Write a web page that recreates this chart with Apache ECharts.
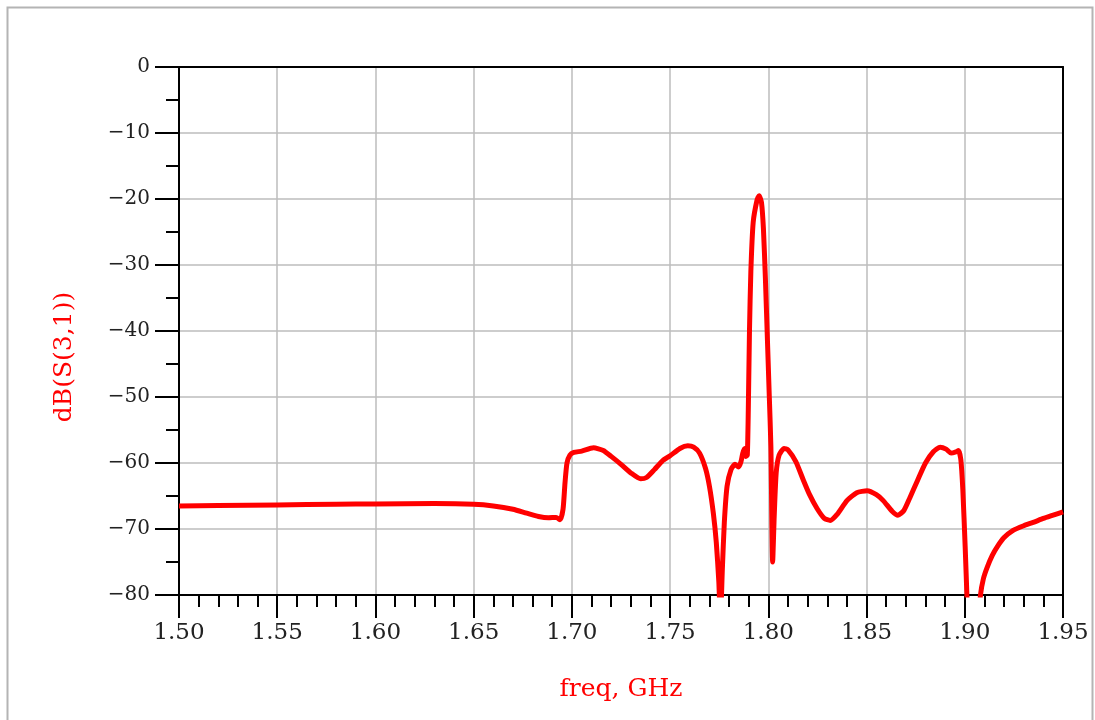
<!DOCTYPE html>
<html><head><meta charset="utf-8">
<script src="https://cdn.jsdelivr.net/npm/echarts@6/dist/echarts.min.js"></script>
<style>html,body{margin:0;padding:0;background:#fff}#c{width:1095px;height:720px}</style>
</head><body><div id="c"></div>
<script>
// Frequency (GHz)
const freqGHz = [1.500,1.520,1.550,1.580,1.600,1.630,1.650,1.660,1.670,1.677,1.683,1.688,1.692,1.694,1.6955,1.6965,1.6975,1.699,1.701,1.705,1.711,1.716,1.720,1.725,1.730,1.735,1.738,1.742,1.746,1.750,1.755,1.759,1.762,1.765,1.768,1.770,1.772,1.7735,1.7748,1.7756,1.7766,1.7776,1.779,1.781,1.783,1.7848,1.786,1.787,1.788,1.7886,1.7893,1.7898,1.7904,1.7911,1.7923,1.7943,1.7953,1.7965,1.7975,1.7985,1.7995,1.8005,1.8013,1.8022,1.8030,1.8040,1.8055,1.8080,1.8100,1.8140,1.8177,1.8210,1.8248,1.8285,1.8315,1.8350,1.8400,1.8450,1.8503,1.8550,1.8585,1.8630,1.8660,1.8690,1.8720,1.8760,1.8800,1.8840,1.8875,1.8905,1.8930,1.8955,1.8968,1.8980,1.8990,1.9002,1.9012,1.9030,1.9050,1.9065,1.9080,1.9095,1.9114,1.9140,1.9165,1.9200,1.9246,1.9300,1.9348,1.9400,1.9450,1.9500];
// dB(S(3,1))
const dbS31 = [-66.5,-66.45,-66.35,-66.25,-66.2,-66.15,-66.25,-66.5,-67.0,-67.6,-68.1,-68.3,-68.25,-68.6,-67.0,-63.0,-60.0,-58.8,-58.4,-58.2,-57.7,-58.1,-59.0,-60.2,-61.5,-62.4,-62.2,-61.0,-59.7,-58.9,-57.8,-57.4,-57.6,-58.5,-60.8,-63.5,-67.6,-72.0,-78.0,-84.0,-76.0,-69.0,-63.5,-61.0,-60.2,-60.6,-59.9,-58.5,-57.8,-59.0,-58.8,-52.0,-40.0,-31.0,-23.5,-20.1,-19.5,-20.5,-24.5,-32.0,-41.0,-50.0,-57.5,-75.0,-68.0,-61.5,-58.8,-57.8,-58.0,-59.8,-62.5,-64.8,-66.9,-68.4,-68.7,-67.8,-65.7,-64.5,-64.2,-64.8,-65.7,-67.3,-67.9,-67.2,-65.3,-62.6,-60.0,-58.3,-57.6,-57.9,-58.5,-58.3,-58.1,-59.5,-64.0,-72.7,-81.0,-95.0,-95.0,-86.0,-80.0,-77.5,-75.8,-74.0,-72.7,-71.3,-70.2,-69.5,-69.0,-68.4,-67.9,-67.4];

const xMin = 1.50, xMax = 1.95, xStep = 0.05;
const yMin = -80, yMax = 0, yStep = 10;

const font = '"DejaVu Serif","Liberation Serif",serif';
const frameAxis = { show: true, axisLine: { show: true, onZero: false, lineStyle: { color: '#000', width: 2 } }, axisTick: { show: false }, axisLabel: { show: false }, splitLine: { show: false }, z: 3 };
const chart = echarts.init(document.getElementById('c'));
chart.setOption({
  animation: false,
  backgroundColor: '#fff',
  graphic: [
    { type: 'rect', left: 5, top: 5, shape: { width: 1085, height: 740 }, style: { fill: 'none', stroke: '#b4b4b4', lineWidth: 2 }, z: -1 },
    { type: 'text', x: 64, y: 357, rotation: Math.PI / 2, style: { text: 'dB(S(3,1))', fill: '#ff0000', font: '25px ' + font, align: 'center', verticalAlign: 'middle' } }
  ],
  grid: { left: 179, right: 32, top: 67, bottom: 125, show: false },
  xAxis: [{
    type: 'value', min: xMin, max: xMax, interval: xStep, position: 'bottom',
    name: 'freq, GHz', nameLocation: 'middle', nameGap: 82,
    nameTextStyle: { color: '#ff0000', fontFamily: font, fontSize: 25 },
    axisLine: { onZero: false, lineStyle: { color: '#000', width: 2 } },
    axisTick: { show: true, inside: false, length: 23, lineStyle: { color: '#000', width: 2 } },
    minorTick: { show: true, splitNumber: 5, length: 12, lineStyle: { color: '#000', width: 2 } },
    axisLabel: { color: '#222', fontFamily: font, fontSize: 23, margin: 27, formatter: v => v.toFixed(2) },
    splitLine: { show: true, lineStyle: { color: '#bdbdbd', width: 1.5 } },
    z: 3
  }, Object.assign({ type: 'value', min: xMin, max: xMax, position: 'top' }, frameAxis)],
  yAxis: [{
    type: 'value', min: yMin, max: yMax, interval: yStep, position: 'left',
    axisLine: { show: true, onZero: false, lineStyle: { color: '#000', width: 2 } },
    axisTick: { show: true, inside: false, length: 24, lineStyle: { color: '#000', width: 2 } },
    minorTick: { show: true, splitNumber: 2, length: 13, lineStyle: { color: '#000', width: 2 } },
    axisLabel: { color: '#222', fontFamily: font, fontSize: 20, margin: 29, formatter: v => String(v).replace('-', '\u2212') },
    splitLine: { show: true, lineStyle: { color: '#bdbdbd', width: 1.5 } },
    z: 3
  }, Object.assign({ type: 'value', min: yMin, max: yMax, position: 'right' }, frameAxis)],
  series: [{
    type: 'line', clip: true, showSymbol: false, smooth: 0.2, xAxisIndex: 0, yAxisIndex: 0, z: 5,
    data: freqGHz.map((f, i) => [f, dbS31[i]]),
    lineStyle: { color: '#ff0000', width: 5, join: 'round', cap: 'butt' }
  }]
});
</script></body></html>
